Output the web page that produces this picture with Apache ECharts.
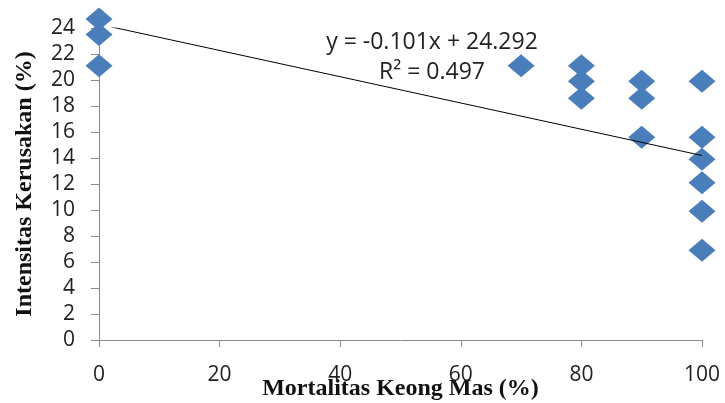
<!DOCTYPE html>
<html>
<head>
<meta charset="utf-8">
<script src="https://cdn.jsdelivr.net/npm/echarts@6/dist/echarts.min.js"></script>
<style>
  html, body { margin: 0; padding: 0; background: #fff; overflow: hidden; }
  #chart { width: 725px; height: 403px; }
</style>
</head>
<body>
<div id="chart"></div>
<script>
// Snail mortality (%) vs. damage intensity (%)
const mortality = [0, 0, 0, 70, 80, 80, 80, 90, 90, 90, 100, 100, 100, 100, 100, 100];
const intensity = [24.7, 23.5, 21.1, 21.1, 21.1, 19.9, 18.6, 19.9, 18.6, 15.6, 19.9, 15.6, 13.9, 12.1, 9.9, 6.9];

// Linear fit stated on the chart
const slope = -0.101;
const intercept = 24.292;
const rSquared = 0.497;
const fitRange = [0, 100];

const xTicks = { min: 0, max: 100, interval: 20 };
const yTicks = { min: 0, max: 24, interval: 2 };

const points = mortality.map((m, i) => [m, intensity[i]]);
const fitLine = fitRange.map(x => [x, slope * x + intercept]);

const tickFont = { fontFamily: 'Open Sans', fontSize: 21, color: '#222' };
const titleFont = { fontFamily: 'Liberation Serif', fontWeight: 'bold', fontSize: 24, color: '#111' };
const noteFont = { fontFamily: 'Open Sans', fontSize: 23, fill: '#222' };

const chart = echarts.init(document.getElementById('chart'), null, { renderer: 'canvas' });
chart.setOption({
  animation: false,
  grid: {
    left: 99, right: 23, top: 28, bottom: 63,
    containLabel: false,
    outerBoundsMode: 'none'
  },
  xAxis: {
    type: 'value',
    min: xTicks.min, max: xTicks.max, interval: xTicks.interval,
    name: 'Mortalitas Keong Mas (%)',
    nameLocation: 'middle',
    nameGap: 37,
    nameMoveOverlap: false,
    nameTextStyle: titleFont,
    axisLine: { show: true, onZero: false, lineStyle: { color: '#8a8a8a', width: 1 } },
    axisTick: { show: true, inside: false, length: 7, lineStyle: { color: '#8a8a8a' } },
    axisLabel: Object.assign({ margin: 25 }, tickFont),
    splitLine: { show: false }
  },
  yAxis: {
    type: 'value',
    min: yTicks.min, max: yTicks.max, interval: yTicks.interval,
    name: 'Intensitas Kerusakan (%)',
    nameLocation: 'middle',
    nameGap: 62,
    nameMoveOverlap: false,
    nameTextStyle: titleFont,
    axisLine: { show: true, onZero: false, lineStyle: { color: '#8a8a8a', width: 1 } },
    axisTick: { show: true, inside: false, length: 8, lineStyle: { color: '#8a8a8a' } },
    axisLabel: Object.assign({ margin: 24 }, tickFont),
    splitLine: { show: false }
  },
  series: [
    {
      type: 'line',
      data: fitLine,
      symbol: 'none',
      silent: true,
      lineStyle: { color: '#000', width: 1 },
      z: 3
    },
    {
      type: 'scatter',
      data: points,
      symbol: 'diamond',
      symbolSize: [27, 23],
      clip: false,
      itemStyle: { color: '#4a7ebb', opacity: 1 },
      z: 2
    }
  ],
  // Fit equation and R² placed inside the plot
  graphic: [
    {
      type: 'text', x: 432, y: 42,
      style: Object.assign({
        text: 'y = ' + slope.toFixed(3) + 'x + ' + intercept.toFixed(3),
        textAlign: 'center', textVerticalAlign: 'middle'
      }, noteFont)
    },
    {
      type: 'text', x: 432, y: 72,
      style: Object.assign({
        text: 'R² = ' + rSquared.toFixed(3),
        textAlign: 'center', textVerticalAlign: 'middle'
      }, noteFont)
    }
  ]
});
</script>
</body>
</html>
